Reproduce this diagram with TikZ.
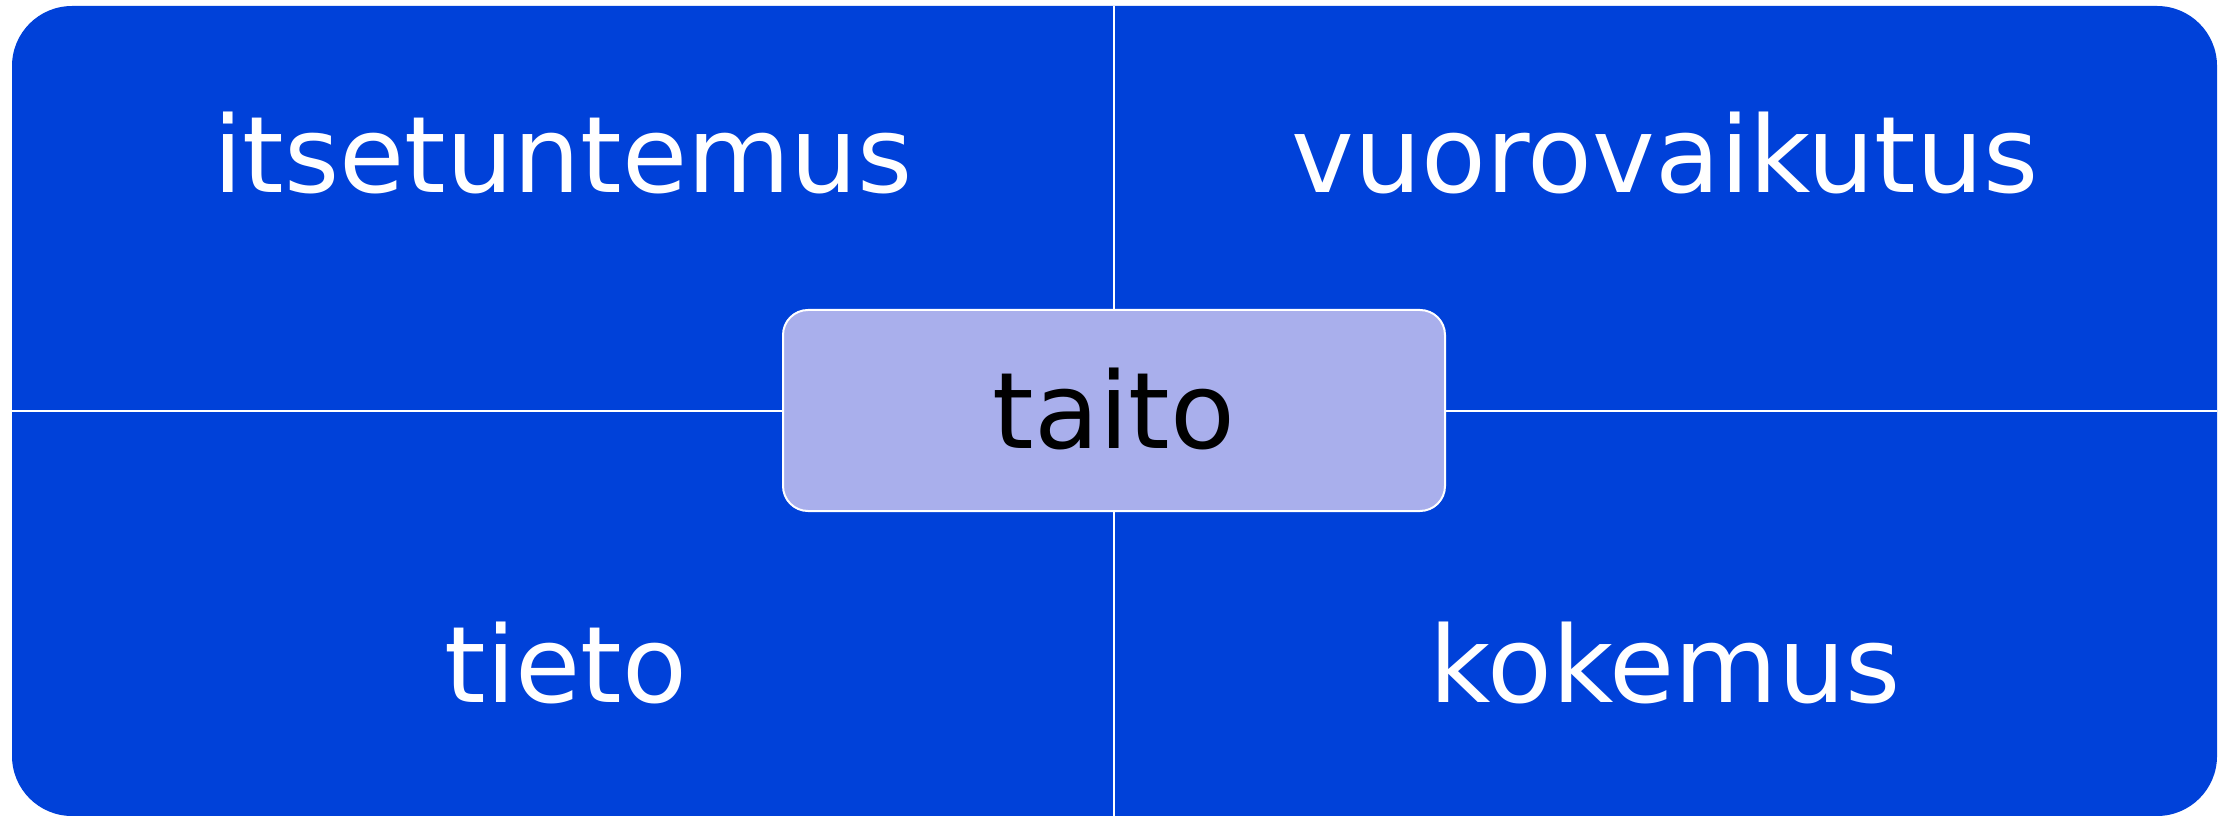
\documentclass[tikz,border=0pt]{standalone}
\usepackage{fontspec}
\setmainfont{DejaVu Sans}
\definecolor{quadblue}{RGB}{0,65,217}
\definecolor{taitofill}{RGB}{169,175,236}
\tikzset{
	quadlabel/.style={anchor=base, text=white, inner sep=0pt, font=\fontsize{53}{60}\selectfont},
	centerbox/.style={draw=white, line width=1pt, fill=taitofill, rounded corners=12.5pt,
		minimum width=331pt, minimum height=100.5pt, inner sep=0pt,
		text height=37.5pt, text depth=0pt, font=\fontsize{53}{60}\selectfont}
}
\begin{document}
\begin{tikzpicture}[x=0.5pt,y=0.5pt]
	\useasboundingbox (0,0) rectangle (2226,815);
	\coordinate (SW) at (12,-1);
	\coordinate (NE) at (2217,809);

	\coordinate (N) at (1114,809);
	\coordinate (S) at (1114,-1);
	\coordinate (W) at (12,404);
	\coordinate (E) at (2217,404);

	\fill[quadblue, rounded corners=30pt] (SW) rectangle (NE);
	\draw[white, line width=1pt] (N)--(S);
	\draw[white, line width=1pt] (W)--(E);

	\foreach \name/\x/\y/\word in {itse/563/622/itsetuntemus, vuoro/1665/622/vuorovaikutus,
		tieto/566/113/tieto, kokemus/1665/113/kokemus}
		\node[quadlabel] (\name) at (\x,\y) {\word};

	\node[centerbox] (taito) at (1114,404.5) {taito};
\end{tikzpicture}
\end{document}
